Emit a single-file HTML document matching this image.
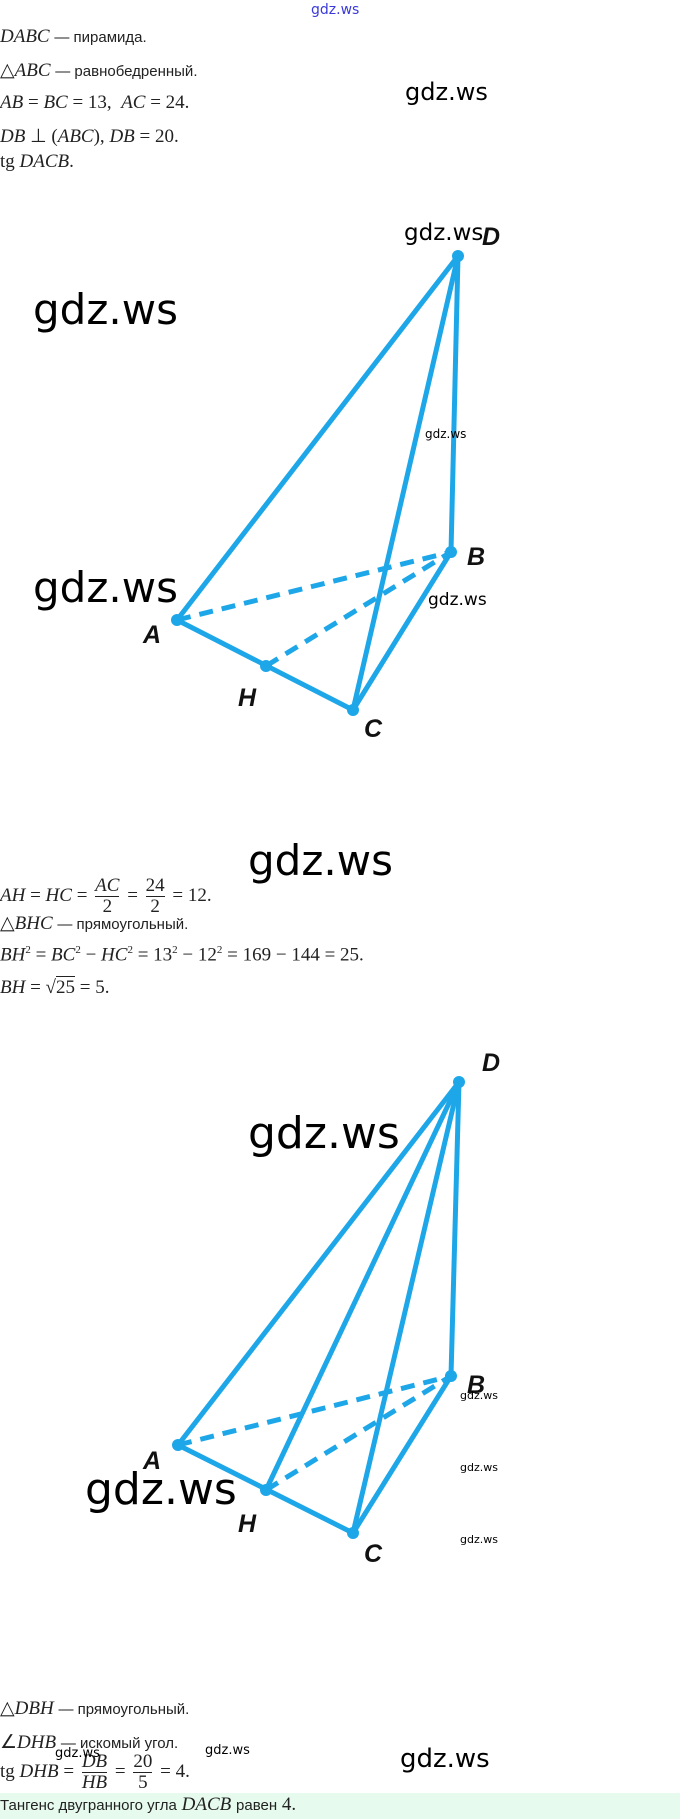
<!DOCTYPE html>
<html><head><meta charset="utf-8"><style>
html,body{margin:0;padding:0;background:#fff;}
body{width:680px;height:1819px;position:relative;overflow:hidden;}
.t{position:absolute;left:0;font-family:"Liberation Serif",serif;font-size:19px;color:#222;white-space:nowrap;}
.t i{font-style:italic;}
.r{font-family:"Liberation Sans",sans-serif;font-size:15px;}
.w{position:absolute;font-family:"DejaVu Sans","Liberation Sans",sans-serif;color:#000;white-space:nowrap;}
.fr{display:inline-block;vertical-align:middle;text-align:center;line-height:20px;margin:0 3px;}
.fr span{display:block;}
.fr span:first-child{border-bottom:1px solid #222;}
svg{position:absolute;left:0;top:0;}
</style></head><body>
<div class="w" style="left:311px;top:2px;font-size:14px;color:#3a3adc;">gdz.ws</div>
<div class="t" style="top:26px;"><i>DABC</i> <span class="r">— пирамида.</span></div>
<div class="t" style="top:59px;">△<i>ABC</i> <span class="r">— равнобедренный.</span></div>
<div class="t" style="top:92px;"><i>AB</i> = <i>BC</i> = 13,&nbsp; <i>AC</i> = 24.</div>
<div class="t" style="top:125px;"><i>DB</i> ⊥ (<i>ABC</i>), <i>DB</i> = 20.</div>
<div class="t" style="top:151px;">tg <i>DACB</i>.</div>
<div class="w" style="left:405px;top:78px;font-size:24px;">gdz.ws</div>

<svg width="680" height="1819" viewBox="0 0 680 1819">
<g stroke="#1ea7e8" stroke-width="5" fill="none" stroke-linecap="round">
<line x1="458" y1="256" x2="177" y2="620"/>
<line x1="458" y1="256" x2="451" y2="552"/>
<line x1="458" y1="256" x2="353" y2="710"/>
<line x1="177" y1="620" x2="353" y2="710"/>
<line x1="353" y1="710" x2="451" y2="552"/>
<line x1="177" y1="620" x2="451" y2="552" stroke-dasharray="14 9" stroke-linecap="butt"/>
<line x1="266" y1="666" x2="451" y2="552" stroke-dasharray="14 9" stroke-linecap="butt"/>

<line x1="459" y1="1082" x2="178" y2="1445"/>
<line x1="459" y1="1082" x2="451" y2="1376"/>
<line x1="459" y1="1082" x2="353" y2="1533"/>
<line x1="459" y1="1082" x2="266" y2="1490"/>
<line x1="178" y1="1445" x2="353" y2="1533"/>
<line x1="353" y1="1533" x2="451" y2="1376"/>
<line x1="178" y1="1445" x2="451" y2="1376" stroke-dasharray="14 9" stroke-linecap="butt"/>
<line x1="266" y1="1490" x2="451" y2="1376" stroke-dasharray="14 9" stroke-linecap="butt"/>
</g>
<g fill="#1ea7e8">
<circle cx="458" cy="256" r="6"/><circle cx="451" cy="552" r="6"/><circle cx="177" cy="620" r="6"/><circle cx="266" cy="666" r="6"/><circle cx="353" cy="710" r="6"/>
<circle cx="459" cy="1082" r="6"/><circle cx="451" cy="1376" r="6"/><circle cx="178" cy="1445" r="6"/><circle cx="266" cy="1490" r="6"/><circle cx="353" cy="1533" r="6"/>
</g>
<g font-family="Liberation Sans, sans-serif" font-weight="bold" font-style="italic" font-size="25" fill="#111">
<text x="482" y="245">D</text><text x="467" y="565">B</text><text x="143" y="643">A</text><text x="238" y="706">H</text><text x="364" y="737">C</text>
<text x="482" y="1071">D</text><text x="467" y="1393">B</text><text x="143" y="1469">A</text><text x="238" y="1532">H</text><text x="364" y="1562">C</text>
</g>
</svg>

<div class="w" style="left:404px;top:220px;font-size:23px;">gdz.ws</div>
<div class="w" style="left:33px;top:285px;font-size:42px;">gdz.ws</div>
<div class="w" style="left:33px;top:563px;font-size:42px;">gdz.ws</div>
<div class="w" style="left:425px;top:427px;font-size:12px;">gdz.ws</div>
<div class="w" style="left:428px;top:590px;font-size:17px;">gdz.ws</div>
<div class="w" style="left:248px;top:836px;font-size:42px;">gdz.ws</div>

<div class="t" style="top:876px;"><i>AH</i> = <i>HC</i> = <span class="fr"><span><i>AC</i></span><span>2</span></span> = <span class="fr"><span>24</span><span>2</span></span> = 12.</div>
<div class="t" style="top:912px;">△<i>BHC</i> <span class="r">— прямоугольный.</span></div>
<div class="t" style="top:944px;"><i>BH</i><sup style="font-size:11px">2</sup> = <i>BC</i><sup style="font-size:11px">2</sup> − <i>HC</i><sup style="font-size:11px">2</sup> = 13<sup style="font-size:11px">2</sup> − 12<sup style="font-size:11px">2</sup> = 169 − 144 = 25.</div>
<div class="t" style="top:977px;"><i>BH</i> = √<span style="border-top:1px solid #222">25</span> = 5.</div>

<div class="w" style="left:248px;top:1108px;font-size:44px;">gdz.ws</div>
<div class="w" style="left:85px;top:1464px;font-size:44px;">gdz.ws</div>
<div class="w" style="left:460px;top:1389px;font-size:11px;">gdz.ws</div>
<div class="w" style="left:460px;top:1461px;font-size:11px;">gdz.ws</div>
<div class="w" style="left:460px;top:1533px;font-size:11px;">gdz.ws</div>

<div class="t" style="top:1697px;">△<i>DBH</i> <span class="r">— прямоугольный.</span></div>
<div class="t" style="top:1731px;">∠<i>DHB</i> <span class="r">— искомый угол.</span></div>
<div class="t" style="top:1752px;">tg <i>DHB</i> = <span class="fr"><span><i>DB</i></span><span><i>HB</i></span></span> = <span class="fr"><span>20</span><span>5</span></span> = 4.</div>
<div class="w" style="left:55px;top:1746px;font-size:13px;">gdz.ws</div>
<div class="w" style="left:205px;top:1743px;font-size:13px;">gdz.ws</div>
<div class="w" style="left:400px;top:1744px;font-size:26px;">gdz.ws</div>
<div style="position:absolute;left:0;top:1793px;width:680px;height:26px;background:#e6fbee;"></div>
<div class="t" style="top:1794px;"><span class="r">Тангенс двугранного угла</span> <i>DACB</i> <span class="r">равен</span> 4.</div>
</body></html>
